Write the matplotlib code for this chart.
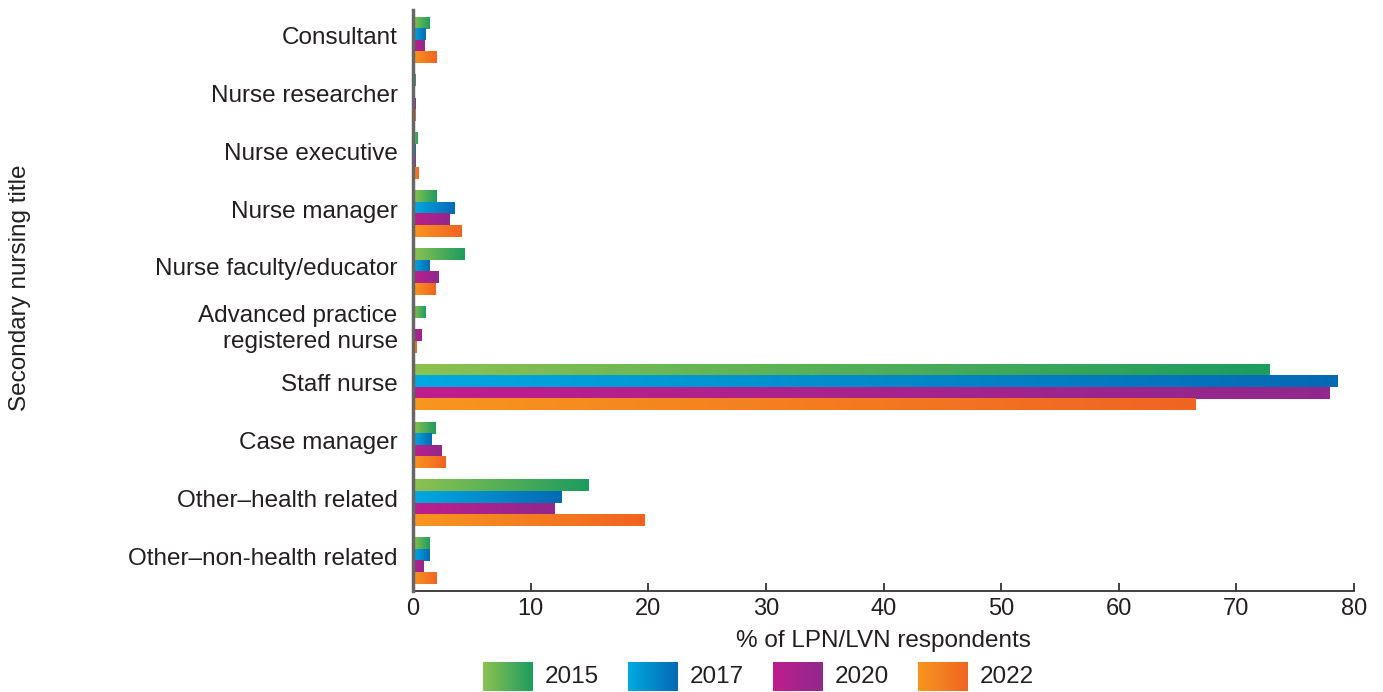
import numpy as np
import matplotlib
matplotlib.use("Agg")
import matplotlib.pyplot as plt
from matplotlib.colors import LinearSegmentedColormap

plt.rcParams['font.family'] = ['Liberation Sans', 'DejaVu Sans']

categories = ["Consultant", "Nurse researcher", "Nurse executive", "Nurse manager",
              "Nurse faculty/educator", "Advanced practice\nregistered nurse",
              "Staff nurse", "Case manager", "Other\u2013health related",
              "Other\u2013non-health related"]
years = ["2015", "2017", "2020", "2022"]
v2015 = [1.4, 0.25, 0.4, 2.0, 4.4, 1.1, 72.8, 1.9, 14.9, 1.4]
v2017 = [1.1, 0.05, 0.25, 3.5, 1.4, 0.15, 78.6, 1.6, 12.6, 1.4]
v2020 = [1.0, 0.25, 0.2, 3.1, 2.2, 0.75, 77.9, 2.4, 12.0, 0.9]
v2022 = [2.0, 0.2, 0.5, 4.1, 1.9, 0.3, 66.5, 2.8, 19.7, 2.0]
xticks = [0, 10, 20, 30, 40, 50, 60, 70, 80]

series = [v2015, v2017, v2020, v2022]
grads = [("#8DC250", "#1C9C5F"), ("#00AAE1", "#0569B4"),
         ("#BE1E8C", "#91288C"), ("#F8961E", "#F06423")]

W, H = 1383, 692
fig = plt.figure(figsize=(W / 100, H / 100), dpi=100)
ax = fig.add_axes([413 / W, 1 - 591 / H, (1354 - 413) / W, (591 - 10) / H])

grad = np.linspace(0, 1, 256).reshape(1, -1)
bh = 0.2
offsets = [-0.3, -0.1, 0.1, 0.3]
for s, vals in enumerate(series):
    cmap = LinearSegmentedColormap.from_list("g%d" % s, grads[s])
    for i, v in enumerate(vals):
        y = i + offsets[s]
        ax.imshow(grad, cmap=cmap, aspect='auto', interpolation='bilinear',
                  extent=(0, v, y + bh / 2, y - bh / 2), zorder=2)

ax.set_xlim(0, 80)
ax.set_ylim(9.52, -0.52)
ax.set_aspect('auto')
ax.set_xticks(xticks)
ax.set_xticklabels([str(t) for t in xticks], fontsize=17, color="#231F20")
ax.set_yticks(np.arange(len(categories)) - 0.08)
ax.set_yticklabels(categories, fontsize=17.5, color="#231F20", linespacing=1.2)
ax.tick_params(axis='y', length=0, pad=11)
ax.tick_params(axis='x', direction='in', length=6, width=1.3, color="#333333", pad=5)
for sp in ['top', 'right']:
    ax.spines[sp].set_visible(False)
ax.spines['left'].set_color("#666666")
ax.spines['left'].set_linewidth(2.5)
ax.spines['bottom'].set_color("#333333")
ax.spines['bottom'].set_linewidth(1.3)
ax.spines['left'].set_zorder(3)

ax.set_xlabel("% of LPN/LVN respondents", fontsize=17.5, color="#231F20", labelpad=7)
fig.text(20 / W, 1 - 288 / H, "Secondary nursing title", rotation=90,
         fontsize=17.5, color="#231F20", ha='center', va='center')

# legend
lax = fig.add_axes([0, 0, 1, 1], zorder=-1)
lax.set_xlim(0, W)
lax.set_ylim(H, 0)
lax.axis('off')
patch_x = [483, 628, 773, 918]
for s, yr in enumerate(years):
    cmap = LinearSegmentedColormap.from_list("l%d" % s, grads[s])
    x0 = patch_x[s]
    lax.imshow(grad, cmap=cmap, aspect='auto', interpolation='bilinear',
               extent=(x0, x0 + 50, 691, 662))
    lax.text(x0 + 62, 677, yr, fontsize=17.5, color="#231F20", va='center', ha='left')
lax.set_xlim(0, W)
lax.set_ylim(H, 0)

fig.savefig("out.png", dpi=100)
